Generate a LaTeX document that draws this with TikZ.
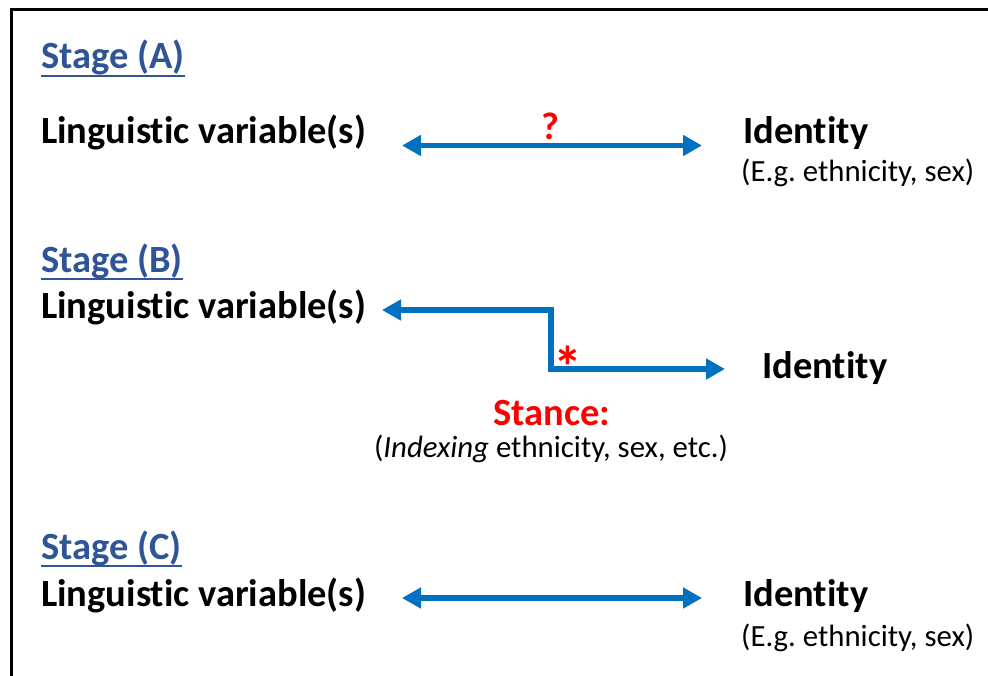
\documentclass[tikz,border=0pt]{standalone}
\usepackage{fontspec}
\setmainfont{Carlito}[Ligatures={NoCommon}]
\usetikzlibrary{arrows.meta}
\definecolor{headblue}{HTML}{2F5597}
\definecolor{arrblue}{HTML}{0070C0}
\definecolor{stred}{HTML}{FF0000}
\frenchspacing
\tikzset{
  txt/.style={inner sep=0pt, anchor=base west},
  big/.style={txt, font=\fontsize{38.5}{44}\selectfont\bfseries},
  small/.style={txt, font=\fontsize{30.8}{36}\selectfont},
  head/.style={big, text=headblue},
  uline/.style={headblue, line width=2.5pt},
  link/.style={arrblue, line width=5.5pt, {Triangle[length=19pt,width=20pt]}-{Triangle[length=19pt,width=20pt]}},
  redsign/.style={inner sep=0pt, anchor=base, text=stred, font=\fontsize{38.5}{44}\selectfont\bfseries}
}
\begin{document}
\begin{tikzpicture}[x=1pt,y=-1pt]
\useasboundingbox (0,0) rectangle (988,675);
\begin{scope}
\clip (0,0) rectangle (988,675);
\draw[line width=3pt] (11,9.5) rectangle (1000,700);
\end{scope}
% Stage A
\node[head] (hA) at (41,68) {Stage (A)};
\draw[uline] ([yshift=-8pt]hA.base west) -- ([yshift=-8pt]hA.base east);
\node[big] (lA) at (41,143) {Linguistic variable(s)};
\node[big] (iA) at (743,143) {Identity};
\node[small] (eA) at (741,181) {(E.g. ethnicity, sex)};
\coordinate (aL) at (402,145.5);
\coordinate (aR) at (702,145.5);
\draw[link] (aL) -- (aR);
\node[redsign] (q) at (550,139) {?};
% Stage B
\node[head] (hB) at (41,272) {Stage (B)};
\draw[uline] ([yshift=-7pt]hB.base west) -- ([yshift=-7pt]hB.base east);
\node[big] (lB) at (41,318) {Linguistic variable(s)};
\node[big] (iB) at (762,378) {Identity};
\coordinate (bL) at (382,310);
\coordinate (bC) at (551,310);
\coordinate (bR) at (725,369);
\draw[link] (bL) -- (bC) |- (bR);
\node[redsign, font=\fontsize{58}{64}\selectfont\bfseries] (st) at (568,387) {*};
\node[redsign] (stance) at (552,425) {Stance:};
\node[small, anchor=base] (idx) at (551,457) {(\textit{Indexing} ethnicity, sex, etc.)};
% Stage C
\node[head] (hC) at (41,559) {Stage (C)};
\draw[uline] ([yshift=-7pt]hC.base west) -- ([yshift=-7pt]hC.base east);
\node[big] (lC) at (41,606) {Linguistic variable(s)};
\node[big] (iC) at (743,606) {Identity};
\node[small] (eC) at (741,646) {(E.g. ethnicity, sex)};
\coordinate (cL) at (402,598);
\coordinate (cR) at (702,598);
\draw[link] (cL) -- (cR);
\end{tikzpicture}
\end{document}
